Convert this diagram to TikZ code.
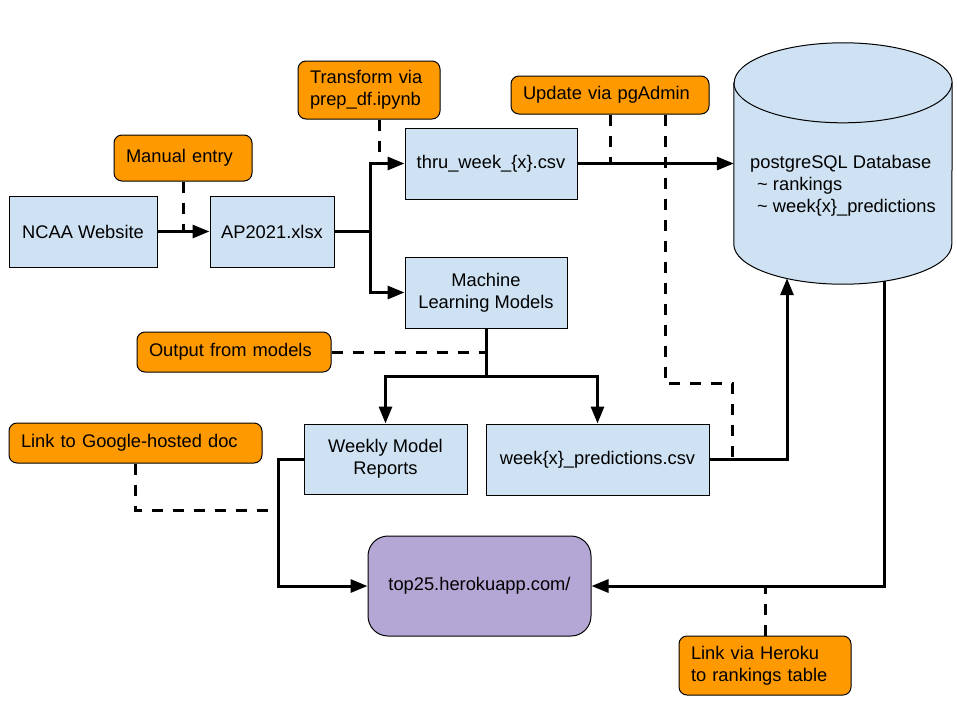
\documentclass[tikz,border=0pt]{standalone}
\usepackage{fontspec}
\setmainfont{Liberation Sans}
\usetikzlibrary{positioning}
\usetikzlibrary{arrows.meta}

\definecolor{boxblue}{HTML}{CFE2F3}
\definecolor{noteorange}{HTML}{FF9900}
\definecolor{sitepurple}{HTML}{B4A7D6}

\tikzset{
  file/.style={draw, line width=1pt, fill=boxblue, inner sep=0pt,
    minimum height=71pt, align=center},
  note/.style={draw, line width=1pt, fill=noteorange, rounded corners=8pt,
    inner xsep=12pt, inner ysep=0pt, align=left},
  site/.style={draw, line width=1pt, fill=sitepurple, rounded corners=20pt,
    inner sep=0pt, minimum width=223pt, minimum height=100pt},
  store/.style={inner sep=0pt, minimum width=218pt, minimum height=241pt},
  flow/.style={line width=3pt, -{Triangle[length=17pt,width=13pt]}},
  hint/.style={line width=3pt, dash pattern=on 11pt off 10pt}
}

\begin{document}
\begin{tikzpicture}[x=1pt, y=-1pt, font=\fontsize{18.3}{22}\selectfont]
\useasboundingbox (0,0) rectangle (957,723);

% sources
\node[file, minimum width=148pt] (ncaa) at (83,231.5) {NCAA Website};
\node[file, minimum width=124pt, right=52pt of ncaa] (ap) {AP2021.xlsx};
\node[file, minimum width=172pt] (thru) at (491,163.5) {thru\_week\_\{x\}.csv};
\node[file, minimum width=162pt, anchor=north west] (ml)
  at ([yshift=-57pt]thru.south west) {Machine\\Learning Models};

% outputs
\node[file, minimum width=163pt, minimum height=70pt] (wmr) at (385.5,459) {Weekly Model\\Reports};
\node[file, minimum width=223pt] (pred) at (597.5,459.5) {week\{x\}\_predictions.csv};

% database
\node[store] (db) at (843,163.5) {};
\path[draw, line width=1pt, fill=boxblue] ([yshift=-40pt]db.north west)
  -- ([yshift=40pt]db.south west) arc[start angle=180, end angle=360, x radius=109pt, y radius=40pt]
  -- ([yshift=-40pt]db.north east) arc[start angle=0, end angle=180, x radius=109pt, y radius=40pt]
  -- cycle;
\draw[line width=1pt] ([yshift=-40pt]db.north west)
  arc[start angle=180, end angle=360, x radius=109pt, y radius=40pt];
\node[align=left, inner sep=0pt] (dbtext) at ([yshift=-22pt]db.center)
  {postgreSQL Database\\\hspace{7pt}\textasciitilde\ rankings\\\hspace{7pt}\textasciitilde\ week\{x\}\_predictions};

% site
\node[site] (top25) at (479.5,586) {top25.herokuapp.com/};

% notes
\node[note, text width=114pt, minimum height=46pt] (manual) at (183,158) {Manual entry};
\node[note, text width=118pt, minimum height=58pt] (transform) at (369,90) {Transform via\\prep\_df.ipynb};
\node[note, text width=174pt, minimum height=38pt] (pgadmin) at (610,95) {Update via pgAdmin};
\node[note, text width=170pt, minimum height=40pt] (output) at (234,352) {Output from models};
\node[note, text width=229pt, minimum height=40pt] (google) at (135.5,443) {Link to Google-hosted doc};
\node[note, text width=148pt, minimum height=59pt] (heroku) at (765,665.5) {Link via Heroku\\to rankings table};

% data flow
\draw[flow] (ncaa) -- (ap);
\draw[flow] (ap.east) -- ++(36,0) |- (thru.west);
\draw[flow] (ap.east) -- ++(36,0) |- (ml.west);
\draw[flow] (thru.east) -- (thru.east -| db.west);
\draw[flow] (ml.south) -- ++(0,48) -| (wmr.north);
\draw[flow] (ml.south) -- ++(0,48) -| (pred.north);
\draw[flow] (pred.east) -| ([xshift=-56pt, yshift=6pt]db.south);
\draw[flow] ([xshift=41pt, yshift=3pt]db.south) |- (top25.east);
\draw[flow] (wmr.west) -- ++(-25,0) |- (top25.west);

% dashed notes
\draw[hint] (manual.south) -- (manual.south |- ncaa.east);
\draw[hint] ([xshift=10pt]transform.south) -- ([xshift=10pt]transform.south |- thru.west);
\draw[hint] (pgadmin.south) -- (pgadmin.south |- thru.east);
\draw[hint] ([xshift=55pt]pgadmin.south) -- ++(0,269) -| ([xshift=23pt]pred.east);
\draw[hint] (output.east) -- (output.east -| ml.south);
\draw[hint] (google.south) -- ++(0,47) -- ++(133,0);
\draw[hint] (heroku.north) -- (heroku.north |- top25.east);
\end{tikzpicture}
\end{document}
